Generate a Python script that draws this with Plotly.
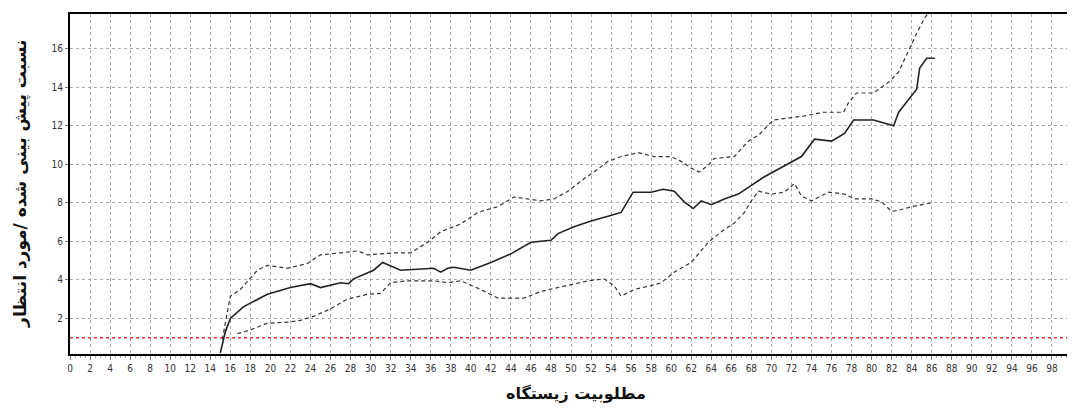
import plotly.graph_objects as go

# Solid (predicted/expected ratio)
mid_x = [15, 15.5, 16, 17.3, 19.7, 22, 24, 25, 27, 27.8, 28.3, 30.3, 31.2, 33, 36.3, 37, 37.7, 38.3, 40, 42, 44, 46,
         48, 48.7, 50.3, 52, 53.7, 55, 56.2, 58, 59.2, 60.3, 61.3, 62.2, 63, 64, 65.3, 66.7, 69.3, 71.7, 73, 74.3,
         76, 77.3, 78.2, 80.2, 82.2, 82.7, 84.5, 84.8, 85.5, 86.3]
mid_y = [0.2, 1.3, 2.0, 2.6, 3.25, 3.6, 3.8, 3.6, 3.85, 3.8, 4.05, 4.5, 4.9, 4.5, 4.6, 4.4, 4.6, 4.65, 4.5, 4.9, 5.35, 5.95,
         6.05, 6.4, 6.75, 7.05, 7.3, 7.5, 8.55, 8.55, 8.7, 8.6, 8.05, 7.7, 8.1, 7.9, 8.2, 8.45, 9.35, 10.05, 10.4, 11.3,
         11.2, 11.6, 12.3, 12.3, 12.0, 12.7, 13.9, 15.0, 15.5, 15.5]

# Upper dashed bound
up_x = [15.2, 16, 17, 18.7, 19.7, 21.7, 23.7, 25, 27, 28.7, 29.7, 32.3, 34, 35.7, 37, 39, 40.7, 42.7, 44.3, 47, 48.3,
        49.7, 51.3, 52.3, 53.7, 55, 56.7, 58.3, 60, 61, 62, 62.8, 63.7, 64.3, 66.3, 67.7, 68.7, 70.2, 73.2, 75.2,
        77.2, 77.7, 78.5, 80.2, 81.8, 82.7, 83.7, 84.5, 85.3, 86.2]
up_y = [0.9, 3.15, 3.5, 4.5, 4.75, 4.6, 4.85, 5.3, 5.4, 5.5, 5.3, 5.4, 5.4, 5.95, 6.5, 6.9, 7.5, 7.8, 8.3, 8.1, 8.2,
        8.6, 9.25, 9.6, 10.15, 10.4, 10.6, 10.4, 10.4, 10.15, 9.8, 9.6, 9.95, 10.3, 10.4, 11.2, 11.5, 12.3, 12.5, 12.7,
        12.7, 13.2, 13.7, 13.7, 14.3, 14.8, 15.9, 16.8, 17.6, 18.2]

# Lower dashed bound
lo_x = [16.7, 18, 19.7, 21.7, 23, 24.3, 26, 27.7, 29.7, 31, 32, 33.7, 36.3, 37.7, 39, 41, 42.7, 45.3, 47, 49.7, 51.7,
        53.3, 54.3, 55, 56.3, 58, 59, 60.3, 62, 62.8, 63.7, 65, 66.3, 67.3, 68, 68.7, 70, 71.3, 72.3, 73, 74, 75.7,
        77.3, 78.3, 80, 81, 82, 83, 84, 85, 86]
lo_y = [1.2, 1.4, 1.75, 1.8, 1.9, 2.1, 2.5, 3.0, 3.25, 3.3, 3.85, 3.95, 3.95, 3.85, 3.95, 3.5, 3.05, 3.05, 3.4, 3.7, 3.95,
        4.05, 3.7, 3.15, 3.5, 3.7, 3.85, 4.4, 4.9, 5.4, 5.95, 6.5, 6.95, 7.5, 8.1, 8.6, 8.45, 8.55, 9.0, 8.35, 8.1, 8.55,
        8.45, 8.2, 8.2, 8.05, 7.55, 7.65, 7.8, 7.9, 8.0]

ref_level = 1
x_ticks = list(range(0, 101, 2))
y_ticks = list(range(2, 17, 2))
x_title = "مطلوبیت زیستگاه"
y_title = "نسبت پیش بینی شده /مورد انتظار"

fig = go.Figure()
fig.add_trace(go.Scatter(x=[0, 100], y=[ref_level, ref_level], mode="lines",
                         line=dict(color="#e03030", width=1.5, dash="dot"), showlegend=False))
fig.add_trace(go.Scatter(x=up_x, y=up_y, mode="lines",
                         line=dict(color="#333333", width=1.2, dash="4px,3px"), showlegend=False))
fig.add_trace(go.Scatter(x=lo_x, y=lo_y, mode="lines",
                         line=dict(color="#333333", width=1.2, dash="4px,3px"), showlegend=False))
fig.add_trace(go.Scatter(x=mid_x, y=mid_y, mode="lines",
                         line=dict(color="#222222", width=1.6), showlegend=False))

# page body has an 8px margin, so the figure is offset by 8px
fig.update_layout(
    width=1067, height=410,
    margin=dict(l=62, r=3, t=6, b=64),
    paper_bgcolor="white", plot_bgcolor="white",
    font=dict(family="DejaVu Sans", color="#222222"),
    xaxis=dict(range=[0, 100], tickvals=x_ticks, ticktext=[str(v) for v in x_ticks],
               tickfont=dict(size=10, family="DejaVu Sans Condensed", color="#333333"),
               showgrid=True, gridcolor="#a8a8a8", griddash="3px,3px", gridwidth=1,
               showline=True, linecolor="black", linewidth=2, mirror=True,
               ticks="outside", ticklen=4, tickcolor="#777777",
               minor=dict(ticks="outside", ticklen=2, tickcolor="#aaaaaa", dtick=0.5),
               zeroline=False, automargin=False),
    yaxis=dict(range=[0.15, 17.8], tickvals=y_ticks, ticktext=[str(v) for v in y_ticks],
               tickfont=dict(size=10, family="DejaVu Sans Condensed", color="#333333"),
               showgrid=True, gridcolor="#a8a8a8", griddash="3px,3px", gridwidth=1,
               showline=True, linecolor="black", linewidth=2, mirror=True,
               ticks="outside", ticklen=3, tickcolor="#777777",
               zeroline=False, automargin=False),
    annotations=[
        dict(text="<b>" + x_title + "</b>", x=0.505, y=-0.115, xref="paper", yref="paper",
             xanchor="center", yanchor="middle", showarrow=False,
             font=dict(size=16, family="DejaVu Sans", color="#111111")),
        dict(text="<b>" + y_title + "</b>", x=-0.05, y=0.5, xref="paper", yref="paper",
             xanchor="center", yanchor="middle", showarrow=False, textangle=-90,
             font=dict(size=17, family="DejaVu Sans", color="#111111")),
    ],
)

fig.write_html("out.html")
